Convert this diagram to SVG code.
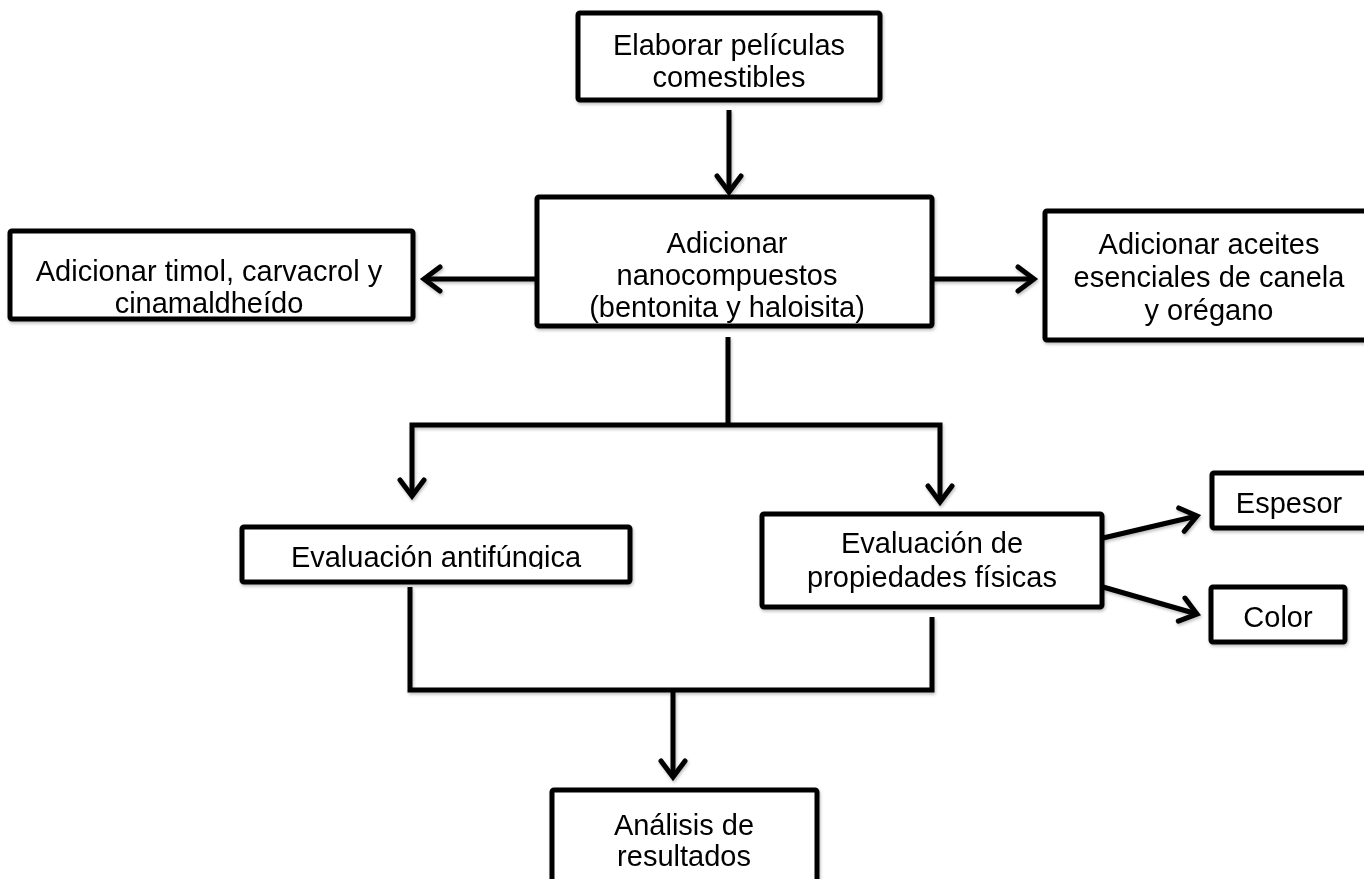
<svg xmlns="http://www.w3.org/2000/svg" width="1364" height="879" viewBox="0 0 1364 879">
<style>
.box{fill:#fff;stroke:#000;stroke-width:5}
.t{font-family:"Liberation Sans",Arial,sans-serif;font-size:29px;fill:#000;text-anchor:middle}
.c{fill:none;stroke:#000;stroke-width:5;stroke-linejoin:miter}
</style>
<defs>
<filter id="sh" x="-10%" y="-10%" width="120%" height="130%">
<feDropShadow dx="1" dy="2" stdDeviation="1.5" flood-color="#000" flood-opacity="0.25"/>
</filter>
<marker id="ah" markerUnits="userSpaceOnUse" viewBox="-24 -20 30 40" refX="0" refY="0" markerWidth="30" markerHeight="40" orient="auto">
<path d="M-16,-12 L0,0 L-16,12" fill="none" stroke="#000" stroke-width="5" stroke-linecap="round" stroke-linejoin="miter"/>
</marker>
<clipPath id="clipAnti"><rect x="240" y="527" width="392" height="42"/></clipPath>
</defs>
<rect width="1364" height="879" fill="#fff"/>
<g id="connectors" filter="url(#sh)">
<line class="c" x1="729" y1="110" x2="729" y2="192" marker-end="url(#ah)"/>
<line class="c" x1="537" y1="279" x2="424" y2="279" marker-end="url(#ah)"/>
<line class="c" x1="932" y1="279" x2="1034" y2="279" marker-end="url(#ah)"/>
<line class="c" x1="728" y1="337" x2="728" y2="425"/>
<path class="c" d="M728,425 L412,425 L412,496" marker-end="url(#ah)"/>
<path class="c" d="M728,425 L940,425 L940,502" marker-end="url(#ah)"/>
<line class="c" x1="1103" y1="538" x2="1197" y2="516" marker-end="url(#ah)"/>
<line class="c" x1="1103" y1="587" x2="1197" y2="614" marker-end="url(#ah)"/>
<polyline class="c" points="410,587 410,690 932,690 932,617"/>
<line class="c" x1="673" y1="690" x2="673" y2="777" marker-end="url(#ah)"/>
</g>
<g id="n1" filter="url(#sh)">
<rect class="box" x="578" y="13" width="302" height="87" rx="2"/>
<text class="t" x="729" y="55">Elaborar películas</text>
<text class="t" x="729" y="87">comestibles</text>
</g>
<g id="n2" filter="url(#sh)">
<rect class="box" x="537" y="197" width="395" height="129" rx="2"/>
<text class="t" x="727" y="253">Adicionar</text>
<text class="t" x="727" y="285">nanocompuestos</text>
<text class="t" x="727" y="317">(bentonita y haloisita)</text>
</g>
<g id="n3" filter="url(#sh)">
<rect class="box" x="10" y="231" width="403" height="88" rx="2"/>
<text class="t" x="209" y="281">Adicionar timol, carvacrol y</text>
<text class="t" x="209" y="313">cinamaldheído</text>
</g>
<g id="n4" filter="url(#sh)">
<rect class="box" x="1045" y="211" width="340" height="129" rx="2"/>
<text class="t" x="1209" y="254">Adicionar aceites</text>
<text class="t" x="1209" y="287">esenciales de canela</text>
<text class="t" x="1209" y="320">y orégano</text>
</g>
<g id="n5" filter="url(#sh)">
<rect class="box" x="242" y="527" width="388" height="55" rx="2"/>
<text class="t" x="436" y="567" clip-path="url(#clipAnti)">Evaluación antifúngica</text>
</g>
<g id="n6" filter="url(#sh)">
<rect class="box" x="762" y="514" width="340" height="93" rx="2"/>
<text class="t" x="932" y="553">Evaluación de</text>
<text class="t" x="932" y="587">propiedades físicas</text>
</g>
<g id="n7" filter="url(#sh)">
<rect class="box" x="1212" y="473" width="170" height="55" rx="2"/>
<text class="t" x="1289" y="513">Espesor</text>
</g>
<g id="n8" filter="url(#sh)">
<rect class="box" x="1211" y="587" width="134" height="55" rx="2"/>
<text class="t" x="1278" y="627">Color</text>
</g>
<g id="n9" filter="url(#sh)">
<rect class="box" x="552" y="790" width="265" height="110" rx="2"/>
<text class="t" x="684" y="835">Análisis de</text>
<text class="t" x="684" y="866">resultados</text>
</g>
</svg>
